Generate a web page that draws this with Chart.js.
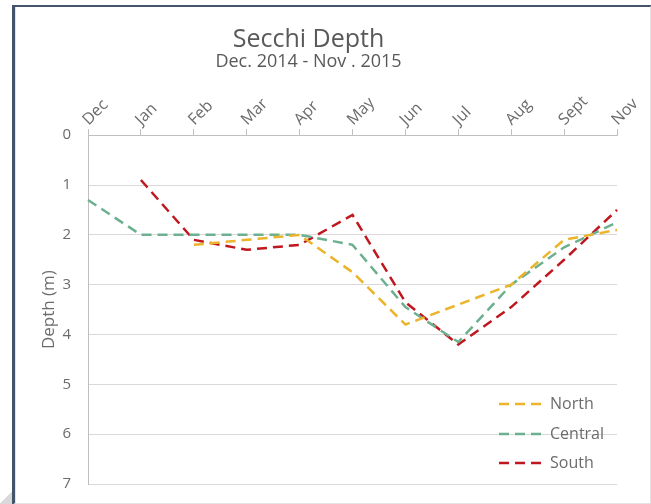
<!DOCTYPE html>
<html>
<head>
<meta charset="utf-8">
<script src="https://cdn.jsdelivr.net/npm/chart.js@4.4.1/dist/chart.umd.min.js"></script>
<style>
  html, body { margin: 0; padding: 0; background: #fff; }
  #wrap { position: relative; width: 651px; height: 504px; overflow: hidden; }
  #frame {
    position: absolute; left: 12px; top: 5px; width: 635px; height: 496px;
    border-top: 2px solid #44546a; border-left: 3px solid #44546a;
    border-right: 2px solid #e3e3e3; border-bottom: 2px solid #e3e3e3;
    box-shadow: inset 1px 0 0 #e3e3e3;
    pointer-events: none;
  }
  #corner {
    position: absolute; left: 0; top: 490px; width: 12px; height: 14px;
    background: linear-gradient(135deg, transparent 50%, #d9d9d9 50%);
  }
  canvas { position: absolute; left: 0; top: 0; }
</style>
</head>
<body>
<div id="wrap">
  <canvas id="secchiChart" width="651" height="504"></canvas>
  <div id="frame"></div>
  <div id="corner"></div>
</div>
<script>
// ---------- Data ----------
const months = ["Dec", "Jan", "Feb", "Mar", "Apr", "May", "Jun", "Jul", "Aug", "Sept", "Nov"];
const north = [null, null, 2.2, 2.1, 2.0, 2.75, 3.8, 3.4, 3.0, 2.1, 1.9];
const central = [1.3, 2.0, 2.0, 2.0, 2.0, 2.2, 3.45, 4.15, 3.0, 2.25, 1.75];
const south = [null, 0.9, 2.1, 2.3, 2.2, 1.6, 3.35, 4.2, 3.45, 2.5, 1.5];
const depthTicks = [0, 1, 2, 3, 4, 5, 6, 7];

const FONT = "'Open Sans', 'Liberation Sans', sans-serif";
const TEXT = "#595959";
const TICK_TEXT = "#6b6b6b";
const DASH = [10, 6];

// legend drawn inside the plot, bottom right
const insideLegend = {
  id: "insideLegend",
  afterDraw(chart) {
    const { ctx, chartArea } = chart;
    const x0 = chartArea.right - 118;
    const rows = [-80, -50, -21];
    ctx.save();
    ctx.font = "16px " + FONT;
    ctx.textBaseline = "middle";
    ctx.textAlign = "left";
    chart.data.datasets.forEach((ds, i) => {
      const y = chartArea.bottom + rows[i];
      ctx.strokeStyle = ds.borderColor;
      ctx.lineWidth = 2.5;
      ctx.setLineDash(DASH);
      ctx.beginPath();
      ctx.moveTo(x0, y);
      ctx.lineTo(x0 + 46, y);
      ctx.stroke();
      ctx.setLineDash([]);
      ctx.fillStyle = TICK_TEXT;
      ctx.fillText(ds.label, x0 + 51, y);
    });
    ctx.restore();
  },
};

const lineDs = (label, data, color) => ({
  label,
  data,
  borderColor: color,
  backgroundColor: color,
  borderWidth: 2.5,
  borderDash: DASH,
  pointRadius: 0,
  tension: 0,
  fill: false,
});

new Chart(document.getElementById("secchiChart"), {
  type: "line",
  data: {
    labels: months,
    datasets: [
      lineDs("North", north, "#ebb42a"),
      lineDs("Central", central, "#6cb08f"),
      lineDs("South", south, "#c0171e"),
    ],
  },
  options: {
    responsive: false,
    animation: false,
    layout: { padding: { left: 0, right: 34, top: 0, bottom: 20 } },
    plugins: {
      legend: { display: false },
      tooltip: { enabled: false },
      title: {
        display: true,
        text: "Secchi Depth",
        color: TEXT,
        font: { family: FONT, size: 25, weight: "normal", lineHeight: 1 },
        padding: { top: 27, bottom: 0 },
      },
      subtitle: {
        display: true,
        text: "Dec. 2014 - Nov . 2015",
        color: TEXT,
        font: { family: FONT, size: 18, weight: "normal", lineHeight: 1 },
        padding: { top: 0.5, bottom: 0 },
      },
    },
    scales: {
      x: {
        position: "top",
        offset: false,
        grid: { drawOnChartArea: false, drawTicks: true, tickLength: 6, color: "#bfbfbf" },
        border: { color: "#bfbfbf" },
        ticks: {
          color: TICK_TEXT,
          font: { family: FONT, size: 16 },
          minRotation: 45,
          maxRotation: 45,
          padding: 0,
          labelOffset: 11,
          autoSkip: false,
        },
        afterFit(scale) { scale.height = 64.7; },
      },
      y: {
        reverse: true,
        min: depthTicks[0],
        max: depthTicks[depthTicks.length - 1],
        grid: { color: "#d9d9d9", drawTicks: false },
        border: { color: "#bfbfbf" },
        ticks: {
          stepSize: 1,
          padding: 17,
          color: TICK_TEXT,
          font: { family: FONT, size: 15 },
        },
        title: {
          display: true,
          text: "Depth (m)",
          color: TICK_TEXT,
          font: { family: FONT, size: 17 },
          padding: { top: 39, bottom: 0 },
        },
        afterFit(scale) {
          scale.width = 88;
          scale.paddingTop = 0;
          scale.paddingBottom = 0;
        },
      },
    },
  },
  plugins: [insideLegend],
});
</script>
</body>
</html>
